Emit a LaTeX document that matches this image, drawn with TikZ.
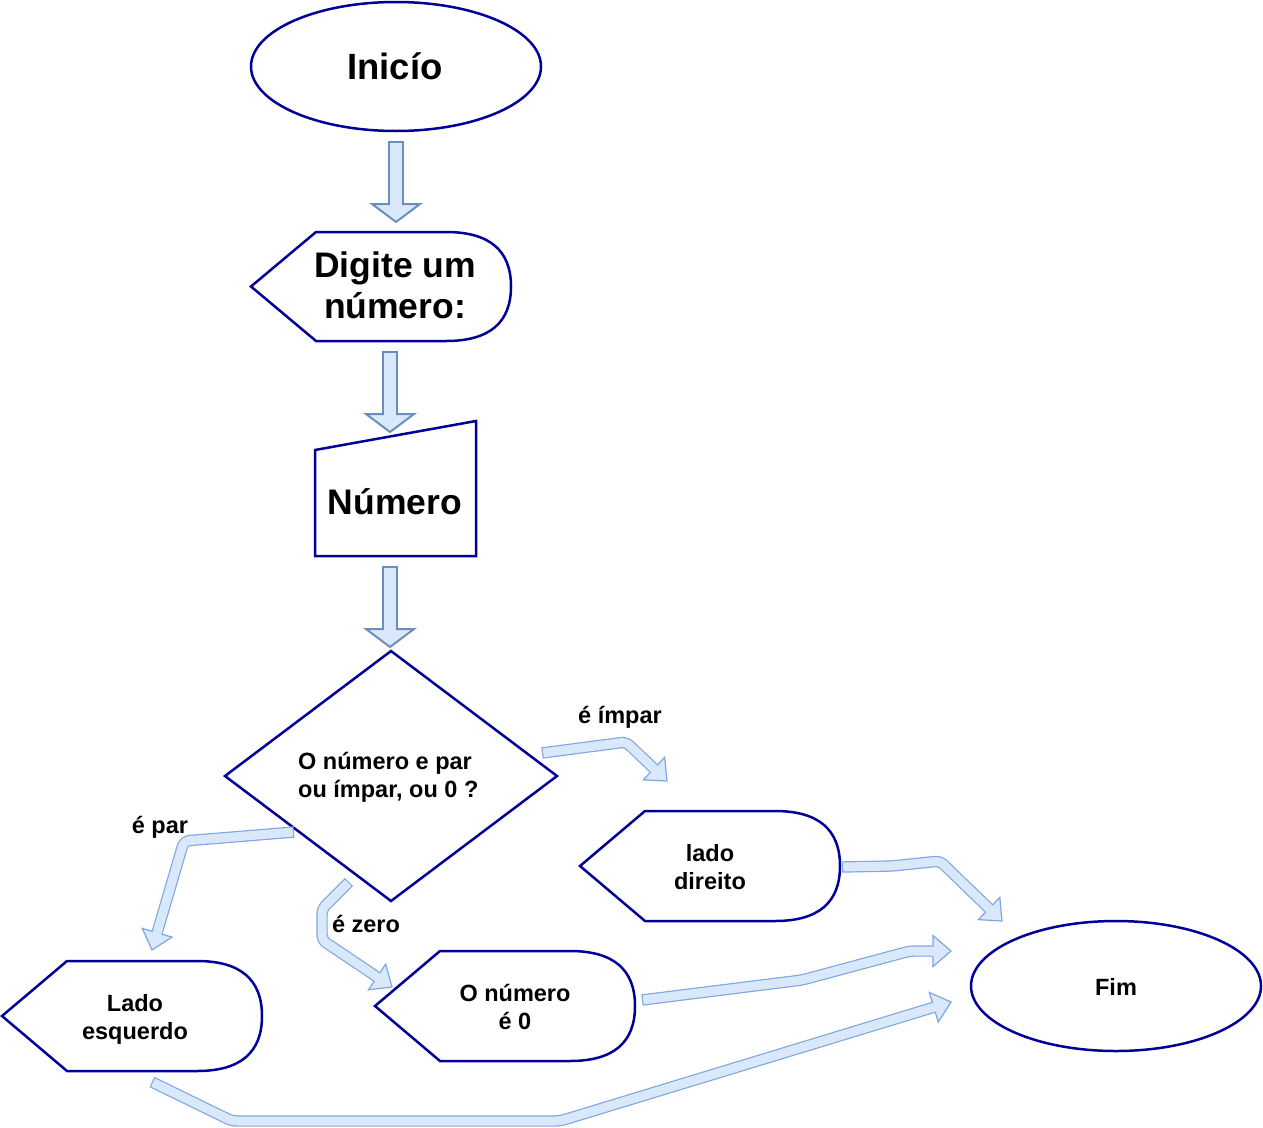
\documentclass[tikz,border=0pt]{standalone}
\usepackage{fontspec}
\setmainfont{Liberation Sans}
\usetikzlibrary{calc,shapes.geometric}
\definecolor{navy}{HTML}{000099}
\definecolor{faFill}{HTML}{DAE8FC}
\definecolor{faTopS}{HTML}{6C8EBF}
\definecolor{faLowS}{HTML}{7EA6E0}
\newcommand\flexarrow[4]{%
  \begin{scope}[#1]
  \path ($(#4)!\fahl!(#3)$) coordinate (hb);
  \path ($(hb)!\fahw!90:(#4)$) coordinate (h1);
  \path ($(hb)!\fahw!-90:(#4)$) coordinate (h2);
  \draw[fashaft] #2 -- (hb);
  \filldraw[fahead] (h1) -- (#4) -- (h2) -- cycle;
  \draw[faerase] ($(hb)!1pt!180:(#4)$) -- ($(hb)!2.5pt!(#4)$);
  \end{scope}}
\newcommand\dispshape[1]{%
  \draw[shp] (#1.west) -- ($(#1.north west)!0.25!(#1.north east)$)
    -- ($(#1.north east)!0.25!(#1.north west)$)
    .. controls ($(#1.north east)!0.08333!(#1.north west)$) and ($(#1.east)!0.6667!(#1.north east)$) .. (#1.east)
    .. controls ($(#1.east)!0.6667!(#1.south east)$) and ($(#1.south east)!0.08333!(#1.south west)$) .. ($(#1.south east)!0.25!(#1.south west)$)
    -- ($(#1.south west)!0.25!(#1.south east)$) -- cycle;}
\begin{document}
\begin{tikzpicture}[x=1pt,y=-1pt,
  shp/.style={draw=navy, line width=2.5pt, fill=white},
  geo/.style={inner sep=0pt, outer sep=0pt, minimum width=#1},
  big/.style={font=\fontsize{35.5}{41}\selectfont\bfseries, align=center, inner sep=0pt, anchor=base},
  small/.style={font=\fontsize{23.5}{28}\selectfont\bfseries, align=center, inner sep=0pt, anchor=base},
  fatop/.code={\def\fahl{18pt}\def\fahw{24pt}\def\fasw{12pt}\def\falw{2pt}\def\fash{8pt}\def\fastroke{faTopS}\def\farc{0.1pt}},
  falow/.code={\def\fahl{18pt}\def\fahw{15.5pt}\def\fasw{9pt}\def\falw{1.2pt}\def\fash{5.7pt}\def\fastroke{faLowS}\def\farc{5pt}},
  fashaft/.style={draw=\fastroke, double=faFill, double distance=\fasw, line width=\falw, line cap=rect, shorten <=\fash, line join=round, rounded corners=\farc},
  fahead/.style={fill=faFill, draw=\fastroke, line width=\falw, line join=miter},
  faerase/.style={draw=faFill, line width=\fasw, line cap=butt}]
\useasboundingbox (0,0) rectangle (1263,1127);
% shapes
\node[shp, ellipse, inner sep=0pt, minimum width=290pt, minimum height=129pt] (ini) at (396,66.5) {};
\node[geo=260pt, minimum height=109pt] (dig) at (381,286.5) {};
\dispshape{dig}
\node[geo=161pt, minimum height=135pt] (num) at (395.5,488.5) {};
\draw[shp] ($(num.north west)+(0,29)$) -- (num.north east) -- (num.south east) -- (num.south west) -- cycle;
\node[geo=332pt, minimum height=250pt] (dec) at (391,776) {};
\draw[shp] (dec.west) -- (dec.north) -- (dec.east) -- (dec.south) -- cycle;
\node[geo=260pt, minimum height=110pt] (dir) at (710,866) {};
\dispshape{dir}
\node[geo=260pt, minimum height=110pt] (zer) at (505,1006) {};
\dispshape{zer}
\node[geo=260pt, minimum height=110pt] (esq) at (132,1016) {};
\dispshape{esq}
\node[shp, ellipse, inner sep=0pt, minimum width=290pt, minimum height=130pt] (fim) at (1116,986) {};
% texts
\node[big, font=\fontsize{36.5}{41}\selectfont\bfseries] (tini) at (395,79) {Inicío};
\node[big] (tdig) at (395,318) {Digite um\\número:};
\node[big] (tnum) at (395,514) {Número};
\node[small, align=left, anchor=base west] (tdec) at (298,797) {O número e par\\ou ímpar, ou 0 ?};
\node[small] (tdir) at (710,889) {lado\\direito};
\node[small] (tzer) at (515,1029) {O número\\é 0};
\node[small] (tesq) at (135,1039) {Lado\\esquerdo};
\node[small] (tfim) at (1116,995) {Fim};
\node[small] (limp) at (620,723) {é ímpar};
\node[small] (lpar) at (160,833) {é par};
\node[small] (lzer) at (366,932) {é zero};
% connector points
\coordinate (a1s) at (396,141); \coordinate (a1t) at (396,222);
\coordinate (a2s) at (390,351); \coordinate (a2t) at (390,432);
\coordinate (a3s) at (390,566); \coordinate (a3t) at (390,647);
\coordinate (is) at (542,753); \coordinate (i1) at (626,742); \coordinate (it) at (667,781);
\coordinate (ps) at (294,832); \coordinate (p1) at (184,841); \coordinate (pt) at (152,950);
\coordinate (zs) at (349,882); \coordinate (z1) at (322,909); \coordinate (z2) at (322,940); \coordinate (zt) at (392,987);
\coordinate (ds) at (842,867); \coordinate (d1) at (892,866); \coordinate (d2) at (940,861); \coordinate (dt) at (1002,921);
\coordinate (os) at (642,1000); \coordinate (o1) at (802,980); \coordinate (o2) at (910,951); \coordinate (ot) at (951,951);
\coordinate (es) at (152,1082); \coordinate (e1) at (232,1121); \coordinate (e2) at (560,1121); \coordinate (et) at (951,1002);
% connectors
\flexarrow{fatop}{(a1s)}{a1s}{a1t}
\flexarrow{fatop}{(a2s)}{a2s}{a2t}
\flexarrow{fatop}{(a3s)}{a3s}{a3t}
\flexarrow{falow}{(is) -- (i1)}{i1}{it}
\flexarrow{falow}{(ps) -- (p1)}{p1}{pt}
\flexarrow{falow}{(zs) -- (z1) -- (z2)}{z2}{zt}
\flexarrow{falow}{(ds) -- (d1) -- (d2)}{d2}{dt}
\flexarrow{falow}{(os) -- (o1) -- (o2)}{o2}{ot}
\flexarrow{falow}{(es) -- (e1) -- (e2)}{e2}{et}
\end{tikzpicture}
\end{document}
